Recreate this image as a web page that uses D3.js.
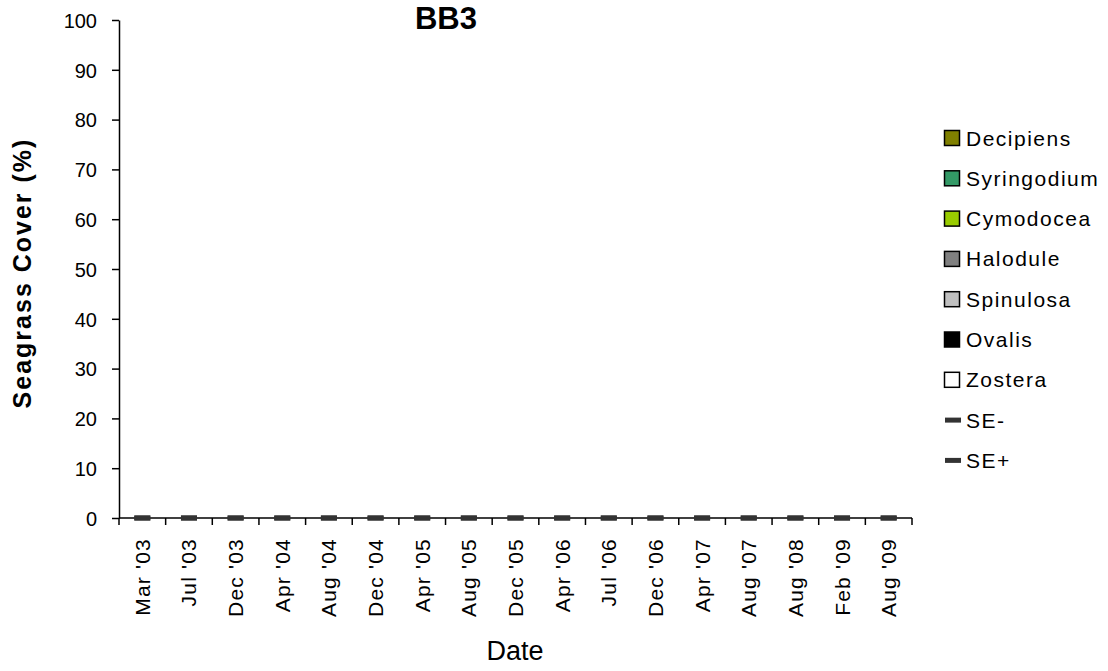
<!DOCTYPE html>
<html><head><meta charset="utf-8">
<script src="https://cdn.jsdelivr.net/npm/d3@7"></script>
<style>body{margin:0;background:#fff}svg{display:block;font-family:"Liberation Sans",Arial,sans-serif}</style>
</head><body><svg id="c" width="1108" height="671"></svg>
<script>
const categories = ["Mar '03","Jul '03","Dec '03","Apr '04","Aug '04","Dec '04","Apr '05","Aug '05","Dec '05","Apr '06","Jul '06","Dec '06","Apr '07","Aug '07","Aug '08","Feb '09","Aug '09"];
const species = ["Decipiens","Syringodium","Cymodocea","Halodule","Spinulosa","Ovalis","Zostera"];
const speciesColors = ["#808000","#339966","#99CC00","#808080","#C0C0C0","#000000","#FFFFFF"];
const decipiens   = [0,0,0,0,0,0,0,0,0,0,0,0,0,0,0,0,0];
const syringodium = [0,0,0,0,0,0,0,0,0,0,0,0,0,0,0,0,0];
const cymodocea   = [0,0,0,0,0,0,0,0,0,0,0,0,0,0,0,0,0];
const halodule    = [0,0,0,0,0,0,0,0,0,0,0,0,0,0,0,0,0];
const spinulosa   = [0,0,0,0,0,0,0,0,0,0,0,0,0,0,0,0,0];
const ovalis      = [0,0,0,0,0,0,0,0,0,0,0,0,0,0,0,0,0];
const zostera     = [0,0,0,0,0,0,0,0,0,0,0,0,0,0,0,0,0];
const seMinus     = [0,0,0,0,0,0,0,0,0,0,0,0,0,0,0,0,0];
const sePlus      = [0,0,0,0,0,0,0,0,0,0,0,0,0,0,0,0,0];
const yTicks = [0,10,20,30,40,50,60,70,80,90,100];

const seriesValues = [decipiens,syringodium,cymodocea,halodule,spinulosa,ovalis,zostera];
const rows = categories.map((c,i)=>{const r={cat:c}; species.forEach((s,k)=>r[s]=seriesValues[k][i]); return r;});

const svg = d3.select("#c");
const L=119, R=912, T=20, B=518;
const x = d3.scaleBand().domain(categories).range([L,R]).paddingInner(0.4).paddingOuter(0.2);
const xb = d3.scaleBand().domain(categories).range([L,R]);
const y = d3.scaleLinear().domain([0,100]).range([B,T]);

// stacked bars (zero height here)
const stack = d3.stack().keys(species)(rows);
svg.append("g").selectAll("g").data(stack).join("g")
  .attr("fill",(d,i)=>speciesColors[i])
  .selectAll("rect").data(d=>d).join("rect")
  .attr("x",d=>x(d.data.cat)).attr("width",x.bandwidth())
  .attr("y",d=>y(d[1])).attr("height",d=>y(d[0])-y(d[1]));

// axes
const yAxis = svg.append("g").attr("transform",`translate(${L},0)`)
  .call(d3.axisLeft(y).tickValues(yTicks).tickSize(7).tickSizeOuter(0).tickPadding(15));
yAxis.select(".domain").attr("stroke","#000").attr("stroke-width",1.5);
yAxis.selectAll(".tick line").attr("stroke","#000").attr("stroke-width",1.5);
yAxis.selectAll("text").attr("font-size",20).attr("fill","#000").attr("font-family","Liberation Sans, Arial").attr("dy","0.36em");

const xg = svg.append("g").attr("transform",`translate(0,${B})`);
xg.append("line").attr("x1",L).attr("x2",R).attr("y1",0).attr("y2",0).attr("stroke","#000").attr("stroke-width",1.5);
const bounds = categories.map(c=>xb(c)).concat([R]);
xg.selectAll("line.tk").data(bounds).join("line").attr("class","tk")
  .attr("x1",d=>d).attr("x2",d=>d).attr("y1",0).attr("y2",7).attr("stroke","#000").attr("stroke-width",1.5);
xg.selectAll("text").data(categories).join("text")
  .attr("transform",d=>`translate(${xb(d)+xb.bandwidth()/2+7.5},20) rotate(-90)`)
  .attr("text-anchor","end").attr("font-size",21).attr("letter-spacing",1.2).attr("fill","#000").text(d=>d);

// SE markers
[seMinus,sePlus].forEach(arr=>{
  svg.append("g").selectAll("rect").data(categories).join("rect")
    .attr("x",(d)=>xb(d)+xb.bandwidth()/2-8).attr("width",16)
    .attr("y",(d,i)=>y(arr[i])-2.5).attr("height",5).attr("fill","#333");
});

// titles
svg.append("text").attr("x",446).attr("y",29).attr("text-anchor","middle").attr("font-size",31).attr("font-weight","bold").text("BB3");
svg.append("text").attr("transform","translate(31,273) rotate(-90)").attr("text-anchor","middle").attr("font-size",25).attr("letter-spacing",2).attr("font-weight","bold").text("Seagrass Cover (%)");
svg.append("text").attr("x",515).attr("y",660).attr("text-anchor","middle").attr("font-size",27).text("Date");

// legend
const legendItems = species.map((s,i)=>({name:s,color:speciesColors[i],type:"box"}))
  .concat([{name:"SE-",type:"line"},{name:"SE+",type:"line"}]);
const lg = svg.append("g");
legendItems.forEach((it,i)=>{
  const cy = 138 + i*40.3;
  if(it.type==="box"){
    lg.append("rect").attr("x",944.5).attr("y",cy-7.5).attr("width",15).attr("height",15)
      .attr("fill",it.color).attr("stroke","#000").attr("stroke-width",1.5);
  } else {
    lg.append("rect").attr("x",945).attr("y",cy-2.5).attr("width",16).attr("height",5).attr("fill","#333");
  }
  lg.append("text").attr("x",966).attr("y",cy+7.5).attr("font-size",21).attr("letter-spacing",1.5).text(it.name);
});
</script></body></html>
